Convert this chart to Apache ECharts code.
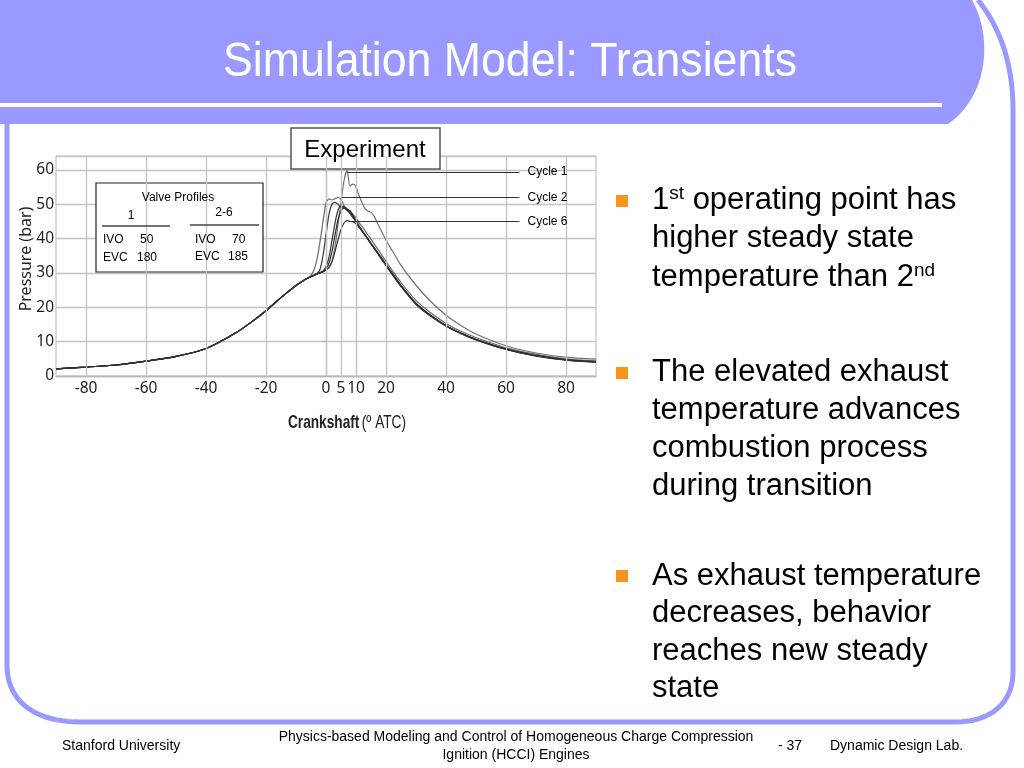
<!DOCTYPE html>
<html>
<head>
<meta charset="utf-8">
<script src="https://cdn.jsdelivr.net/npm/echarts@6/dist/echarts.min.js"></script>
<style>
html,body{margin:0;padding:0;background:#fff;}
#c{width:1024px;height:768px;}
</style>
</head>
<body>
<div id="c"></div>
<script>
// Crank angle (deg ATC)
var CRANK = [-90,-80,-70,-60,-50,-40,-30,-25,-20,-15,-10,-8,-6,-5,-4,-3,-2,-1,
  0,1,2,3,4,5,6,7,8,9,10,11,12,13,14,15,16,
  18,20,22,25,30,35,40,45,50,60,70,80,90];
// Pressure (bar) per cycle
var CYCLE1 = [2.1,2.6,3.2,4.3,5.7,8.0,12.6,15.6,19.0,22.8,26.3,27.5,28.5,28.9,29.3,29.7,30.0,30.4,
  30.9,31.6,33.5,37.5,44,50.5,56.8,59.8,55.3,55.8,55,52.5,50.5,48.6,48,47.6,46.5,
  43,39.5,36.6,32.2,26.4,21.6,17.7,14.7,12.2,8.8,6.7,5.5,4.9];
var CYCLE2 = [2.1,2.6,3.2,4.3,5.7,8.0,12.6,15.6,19.0,22.8,26.3,27.5,28.6,29.3,30.8,34,39,45,
  50.3,51.5,51.2,51.6,52,51.3,49.6,48.6,48,47,46,44.6,43.5,42.3,41,39.8,38.5,
  36,33.3,30.8,27.2,22,18.3,15.3,13,11.2,8.2,6.3,5.0,4.4];
var CYCLE3 = [2.1,2.6,3.2,4.3,5.7,8.0,12.6,15.6,19.0,22.8,26.3,27.5,28.5,28.9,29.3,29.8,31,35,
  41,47,50,50.5,50,49,48.8,48.2,47.2,46,45,43.6,42.4,41.1,39.9,38.6,37.4,
  34.9,32.4,29.9,26.3,21.1,17.5,14.6,12.4,10.6,7.8,5.9,4.7,4.1];
var CYCLE4 = [2.1,2.6,3.2,4.3,5.7,8.0,12.6,15.6,19.0,22.8,26.3,27.5,28.5,28.9,29.3,29.7,30.1,30.6,
  31.8,34.5,39.5,44.5,48.2,49.5,49.2,48.6,48,46.6,45.2,43.6,42.3,41,39.8,38.5,37.3,
  35.0,32.5,30.0,26.4,21.2,17.6,14.7,12.5,10.7,7.9,6.0,4.8,4.2];
var CYCLE5 = [2.1,2.6,3.2,4.3,5.7,8.0,12.6,15.6,19.0,22.8,26.3,27.5,28.5,28.9,29.3,29.7,30.0,30.4,
  31.2,32.8,36.2,41,45.5,48,49,48.3,47.6,46.5,45,43.4,42.2,41,39.8,38.5,37.3,
  34.8,32.3,29.8,26.2,21.0,17.5,14.6,12.4,10.6,7.8,5.9,4.7,4.1];
var CYCLE6 = [2.1,2.6,3.2,4.3,5.7,8.0,12.6,15.6,19.0,22.8,26.3,27.5,28.5,28.9,29.3,29.7,30.0,30.3,
  30.8,31.6,33.2,36.2,39.6,42.6,44.5,45.2,45,44.8,44.3,43.3,42.2,41,39.7,38.4,37.2,
  34.6,32.1,29.6,26.0,20.8,17.3,14.5,12.3,10.5,7.7,5.8,4.6,4.0];
var X_TICKS = [-80,-60,-40,-20,0,5,10,20,40,60,80];
var X_GRID = [-80,-60,-40,-20,0,5,10,20,40,60,80];
// leader lines: [label, pressure, start angle]
var LEADERS = [["Cycle 1",59.4,7.1],["Cycle 2",51.9,5.3],["Cycle 6",44.9,8.3]];
var LEADER_END = 64.5;

function pairs(ys){ return CRANK.map(function(x,i){ return [x, ys[i]]; }); }
function leader(idx){
  var L = LEADERS[idx];
  return {
    silent:true, symbol:['none','none'], animation:false,
    lineStyle:{color:'#333',width:1,type:'solid'},
    label:{show:true,position:'end',distance:8,formatter:L[0],color:'#000',fontSize:12,fontFamily:'Liberation Sans, Arial'},
    emphasis:{disabled:true},
    data:[[{coord:[L[2],L[1]]},{coord:[LEADER_END,L[1]]}]]
  };
}
// decorative slide-frame curve sampling
function bez(p0,p1,p2,p3,n){
  var out=[];
  for(var i=0;i<=n;i++){var t=i/n,u=1-t;
    out.push([u*u*u*p0[0]+3*u*u*t*p1[0]+3*u*t*t*p2[0]+t*t*t*p3[0],
              u*u*u*p0[1]+3*u*u*t*p1[1]+3*u*t*t*p2[1]+t*t*t*p3[1]]);}
  return out;
}
var titleShape = [[0,0]].concat(bez([972,0],[992,35],[990,95],[948,124],20)).concat([[0,124]]);
var framePts = bez([978,0],[998,25],[1013,60],[1013,110],16)
  .concat(bez([1013,672],[1013,702],[992,722],[955,722],16))
  .concat(bez([80,722],[40,722],[7,705],[7,665],20))
  .concat([[7,122]]);

var FONT = 'Liberation Sans, Arial, sans-serif';
var AXF = 'Noto Sans, Open Sans, sans-serif';
var chart = echarts.init(document.getElementById('c'));
var lineCol = ['#707070','#6a6a6a','#3a3a3a','#333','#2a2a2a','#333'];
var cycles = [CYCLE1,CYCLE2,CYCLE3,CYCLE4,CYCLE5,CYCLE6];
var series = [{
  type:'line', data:[], z:1, silent:true,
  markLine:{silent:true,symbol:['none','none'],animation:false,
    lineStyle:{color:'#c2c2c2',width:1.3,type:'solid'},label:{show:false},
    emphasis:{disabled:true},
    data:X_GRID.map(function(v){return {xAxis:v};})}
}];
cycles.forEach(function(c,i){
  var s = {type:'line', name:'Cycle '+(i+1), data:pairs(c), showSymbol:false, symbol:'none',
    smooth:0.25, z:3, animation:false,
    lineStyle:{color:lineCol[i], width:1.2}};
  if(i===0) s.markLine = leader(0);
  if(i===1) s.markLine = leader(1);
  if(i===5) s.markLine = leader(2);
  series.push(s);
});

function txt(x,y,t,size,opt){
  opt = opt||{};
  var el = {type:'text', x:x, y:y, z:opt.z||10, style:{text:t, fill:opt.color||'#000', fontSize:size,
    fontFamily:opt.font||FONT, fontWeight:opt.weight||'normal', textAlign:opt.align||'left', textVerticalAlign:'middle'}};
  if(opt.sx) el.scaleX = opt.sx;
  return el;
}
var BUL = '#f7941d';
var bulletRich = {a:{fontSize:31,fontFamily:FONT,fill:'#000'}, s:{fontSize:19,fontFamily:FONT,fill:'#000',verticalAlign:'top'}};

var graphic = [
  {type:'polygon', z:5, shape:{points:titleShape}, style:{fill:'#9999ff'}},
  {type:'rect', z:6, shape:{x:0,y:103,width:942,height:4}, style:{fill:'#fff'}},
  {type:'polyline', z:5, shape:{points:framePts}, style:{fill:null,stroke:'#9999ff',lineWidth:5}},
  txt(510,63,'Simulation Model: Transients',48,{color:'#fff',align:'center',sx:0.93}),
  // Experiment box
  {type:'rect', z:1, shape:{x:291,y:128,width:149,height:41}, style:{fill:'#fff',stroke:'#555',lineWidth:1.5}},
  txt(365,150,'Experiment',24,{align:'center'}),
  // valve profile box
  {type:'rect', z:1, shape:{x:96,y:183,width:167,height:89}, style:{fill:'#fff',stroke:'#222',lineWidth:1.2}},
  txt(178,198,'Valve Profiles',12,{align:'center'}),
  txt(131,216,'1',12,{align:'center'}),
  txt(224,213,'2-6',12,{align:'center'}),
  {type:'line', z:10, shape:{x1:102,y1:226,x2:170,y2:226}, style:{stroke:'#444',lineWidth:1.5}},
  {type:'line', z:10, shape:{x1:190,y1:225,x2:259,y2:225}, style:{stroke:'#444',lineWidth:1.5}},
  txt(103,240,'IVO',12), txt(140,240,'50',12),
  txt(103,258,'EVC',12), txt(137,258,'180',12),
  txt(195,240,'IVO',12), txt(232,240,'70',12),
  txt(195,257,'EVC',12), txt(228,257,'185',12),
  // axis titles
  {type:'text', x:26, y:259, z:10, rotation:Math.PI/2, style:{text:'Pressure (bar)', fill:'#222', fontSize:16, fontFamily:AXF, textAlign:'center', textVerticalAlign:'middle'}},
  {type:'text', x:347, y:423, z:10, scaleX:0.72, style:{text:'{b|Crankshaft} {r|(º ATC)}', fill:'#222', textAlign:'center', textVerticalAlign:'middle',
    rich:{b:{fontSize:19,fontWeight:'bold',fontFamily:FONT,fill:'#222'}, r:{fontSize:19,fontFamily:FONT,fill:'#222'}}}},
  // bullets
  {type:'rect', z:10, shape:{x:616,y:195,width:12,height:12}, style:{fill:BUL}},
  {type:'rect', z:10, shape:{x:616,y:367,width:12,height:12}, style:{fill:BUL}},
  {type:'rect', z:10, shape:{x:616,y:570,width:12,height:12}, style:{fill:BUL}},
  {type:'text', x:652, y:200, z:10, style:{text:'{a|1}{s|st}{a| operating point has}', textVerticalAlign:'middle', rich:bulletRich}},
  txt(652,238,'higher steady state',31),
  {type:'text', x:652, y:277, z:10, style:{text:'{a|temperature than 2}{s|nd}', textVerticalAlign:'middle', rich:bulletRich}},
  txt(652,372,'The elevated exhaust',31),
  txt(652,410,'temperature advances',31),
  txt(652,448,'combustion process',31),
  txt(652,486,'during transition',31),
  txt(652,576,'As exhaust temperature',31),
  txt(652,613,'decreases, behavior',31),
  txt(652,651,'reaches new steady',31),
  txt(652,688,'state',31),
  // footer
  txt(62,746,'Stanford University',14),
  txt(516,737,'Physics-based Modeling and Control of Homogeneous Charge Compression',14,{align:'center'}),
  txt(516,755,'Ignition (HCCI) Engines',14,{align:'center'}),
  txt(790,746,'- 37',14,{align:'center'}),
  txt(830,746,'Dynamic Design Lab.',14)
];

chart.setOption({
  animation:false,
  grid:{left:56, right:428, top:156, bottom:392, show:true, borderColor:'#c2c2c2', borderWidth:1.2, containLabel:false},
  xAxis:{type:'value', min:-90, max:90, interval:5,
    axisLine:{show:true, lineStyle:{color:'#b8b8b8',width:1.3}},
    axisTick:{show:false}, splitLine:{show:false},
    axisLabel:{margin:5, color:'#222', fontSize:15.5, fontFamily:AXF,
      formatter:function(v){ return X_TICKS.indexOf(v)>=0 ? String(v) : ''; }}},
  yAxis:{type:'value', min:0, max:64, interval:10,
    axisLine:{show:true, lineStyle:{color:'#b8b8b8',width:1.3}},
    axisTick:{show:true, length:3, lineStyle:{color:'#aaa'}},
    splitLine:{show:true, lineStyle:{color:'#c2c2c2',width:1.3}},
    axisLabel:{margin:2, color:'#222', fontSize:15.5, showMaxLabel:false, fontFamily:AXF}},
  series:series,
  graphic:graphic
});
</script>
</body>
</html>
